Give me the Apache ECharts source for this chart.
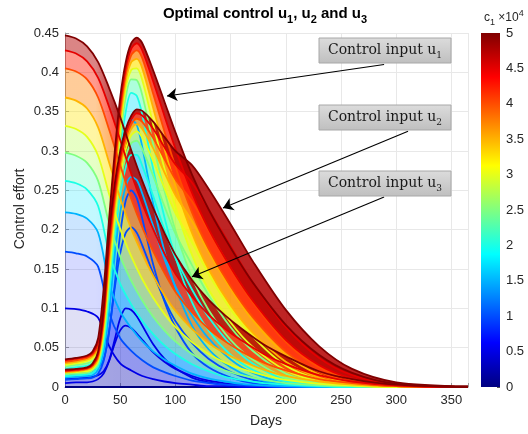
<!DOCTYPE html>
<html>
<head>
<meta charset="utf-8">
<script src="https://cdn.jsdelivr.net/npm/echarts@6/dist/echarts.min.js"></script>
<style>
  html, body { margin: 0; padding: 0; background: #ffffff; }
  #chart { width: 528px; height: 434px; }
</style>
</head>
<body>
<div id="chart"></div>
<script>
// Penalty weight c1 (x10^4), one curve per level for every control
const c1Levels = [0, 0.5, 1, 1.5, 2, 2.5, 3, 3.5, 4, 4.5, 5];
const c1Max = 5;

// Time samples (days)
const daysU12 = [0, 10, 20, 25, 30, 35, 40, 45, 50, 55, 60, 65, 70, 80, 90, 100, 115, 130, 150, 170, 200, 230, 260, 300, 365];
const daysU3 = [0, 10, 20, 30, 40, 50, 60, 70, 80, 90, 100, 115, 130, 145, 160, 180, 200, 230, 260, 300, 365];

// u1, one row per c1 level
const u1Rows = [
  [0,0,0,0,0,0,0,0,0,0,0,0,0,0,0,0,0,0,0,0,0,0,0,0,0],
  [0.010,0.011,0.012,0.013,0.015,0.020,0.034,0.060,0.087,0.100,0.098,0.090,0.078,0.054,0.036,0.024,0.012,0.006,0.002,0.001,0,0,0,0,0],
  [0.016,0.017,0.018,0.020,0.024,0.035,0.070,0.130,0.195,0.237,0.250,0.240,0.214,0.155,0.109,0.076,0.043,0.025,0.012,0.005,0.001,0,0,0,0],
  [0.020,0.021,0.023,0.026,0.031,0.047,0.098,0.180,0.262,0.318,0.340,0.333,0.305,0.232,0.173,0.127,0.078,0.048,0.025,0.012,0.003,0.001,0,0,0],
  [0.023,0.025,0.027,0.030,0.036,0.058,0.120,0.210,0.295,0.350,0.374,0.370,0.346,0.276,0.216,0.165,0.108,0.072,0.041,0.022,0.007,0.002,0,0,0],
  [0.026,0.028,0.030,0.033,0.041,0.068,0.138,0.230,0.314,0.368,0.391,0.390,0.371,0.308,0.250,0.199,0.139,0.098,0.060,0.035,0.012,0.004,0.001,0,0],
  [0.028,0.030,0.033,0.036,0.045,0.078,0.154,0.246,0.327,0.380,0.403,0.405,0.390,0.333,0.278,0.229,0.168,0.124,0.082,0.051,0.021,0.007,0.002,0,0],
  [0.030,0.032,0.035,0.039,0.049,0.088,0.168,0.259,0.338,0.389,0.413,0.417,0.405,0.354,0.303,0.256,0.196,0.150,0.104,0.069,0.032,0.012,0.004,0.001,0],
  [0.032,0.034,0.037,0.041,0.053,0.098,0.183,0.272,0.348,0.397,0.422,0.428,0.418,0.372,0.325,0.280,0.222,0.176,0.128,0.089,0.045,0.019,0.007,0.001,0],
  [0.034,0.036,0.039,0.043,0.057,0.110,0.198,0.285,0.358,0.405,0.430,0.437,0.428,0.388,0.345,0.303,0.247,0.201,0.152,0.110,0.060,0.028,0.011,0.002,0],
  [0.035,0.037,0.040,0.045,0.062,0.125,0.215,0.298,0.368,0.413,0.437,0.444,0.437,0.402,0.363,0.324,0.270,0.226,0.177,0.133,0.079,0.041,0.018,0.004,0]
];

// u2, one row per c1 level
const u2Rows = [
  [0,0,0,0,0,0,0,0,0,0,0,0,0,0,0,0,0,0,0,0,0,0,0,0,0],
  [0.005,0.006,0.006,0.007,0.010,0.017,0.033,0.055,0.072,0.078,0.075,0.068,0.060,0.044,0.032,0.023,0.014,0.008,0.004,0.002,0,0,0,0,0],
  [0.009,0.010,0.011,0.012,0.017,0.033,0.072,0.125,0.170,0.196,0.203,0.196,0.180,0.144,0.111,0.084,0.056,0.036,0.019,0.009,0.002,0,0,0,0],
  [0.012,0.013,0.014,0.015,0.022,0.045,0.100,0.167,0.222,0.255,0.267,0.263,0.246,0.204,0.163,0.128,0.091,0.062,0.035,0.018,0.005,0.001,0,0,0],
  [0.014,0.015,0.016,0.018,0.026,0.055,0.118,0.190,0.244,0.279,0.295,0.295,0.281,0.242,0.200,0.164,0.124,0.089,0.054,0.030,0.009,0.002,0,0,0],
  [0.016,0.017,0.018,0.021,0.030,0.063,0.133,0.205,0.258,0.293,0.310,0.313,0.302,0.268,0.230,0.195,0.155,0.117,0.076,0.046,0.017,0.005,0.001,0,0],
  [0.018,0.019,0.020,0.023,0.033,0.071,0.146,0.217,0.268,0.302,0.320,0.325,0.317,0.287,0.253,0.221,0.184,0.144,0.099,0.064,0.027,0.010,0.003,0,0],
  [0.019,0.020,0.022,0.025,0.036,0.078,0.158,0.228,0.277,0.310,0.328,0.334,0.328,0.303,0.273,0.244,0.211,0.172,0.125,0.085,0.041,0.016,0.005,0.001,0],
  [0.020,0.021,0.023,0.027,0.039,0.085,0.170,0.238,0.285,0.316,0.334,0.341,0.337,0.316,0.290,0.264,0.236,0.199,0.151,0.108,0.057,0.025,0.009,0.002,0],
  [0.021,0.022,0.024,0.028,0.042,0.092,0.182,0.248,0.292,0.322,0.340,0.348,0.345,0.328,0.305,0.283,0.260,0.226,0.179,0.133,0.076,0.037,0.015,0.003,0],
  [0.022,0.023,0.025,0.030,0.045,0.100,0.195,0.258,0.300,0.328,0.345,0.353,0.351,0.337,0.318,0.300,0.282,0.252,0.207,0.160,0.098,0.052,0.023,0.006,0.001]
];

// u3, one row per c1 level
const u3Rows = [
  [0,0,0,0,0,0,0,0,0,0,0,0,0,0,0,0,0,0,0,0,0],
  [0.100,0.099,0.096,0.088,0.052,0.030,0.021,0.014,0.010,0.007,0.005,0.003,0.001,0.001,0,0,0,0,0,0,0],
  [0.172,0.170,0.166,0.153,0.094,0.062,0.046,0.034,0.025,0.019,0.014,0.008,0.005,0.003,0.002,0.001,0,0,0,0,0],
  [0.222,0.220,0.214,0.196,0.132,0.096,0.075,0.058,0.045,0.035,0.027,0.017,0.011,0.007,0.004,0.002,0.001,0,0,0,0],
  [0.262,0.259,0.251,0.230,0.170,0.131,0.105,0.084,0.067,0.053,0.042,0.029,0.020,0.013,0.009,0.005,0.003,0.001,0,0,0],
  [0.298,0.294,0.285,0.262,0.208,0.166,0.135,0.110,0.089,0.072,0.058,0.042,0.030,0.021,0.015,0.009,0.005,0.002,0.001,0,0],
  [0.332,0.328,0.318,0.294,0.245,0.201,0.166,0.137,0.113,0.093,0.076,0.057,0.042,0.031,0.023,0.015,0.009,0.004,0.002,0,0],
  [0.368,0.364,0.354,0.330,0.285,0.240,0.201,0.169,0.141,0.117,0.097,0.074,0.056,0.043,0.033,0.022,0.014,0.007,0.003,0.001,0],
  [0.405,0.401,0.391,0.368,0.327,0.282,0.239,0.203,0.172,0.145,0.121,0.095,0.074,0.058,0.045,0.031,0.021,0.010,0.005,0.001,0],
  [0.428,0.424,0.414,0.393,0.356,0.314,0.271,0.233,0.200,0.170,0.144,0.115,0.092,0.074,0.059,0.042,0.029,0.015,0.007,0.002,0],
  [0.447,0.443,0.433,0.413,0.380,0.343,0.301,0.262,0.227,0.196,0.168,0.136,0.111,0.091,0.074,0.054,0.039,0.020,0.010,0.003,0]
];

// Axis ticks
const xTicks = { min: 0, max: 365, step: 50 };
const yTicks = { min: 0, max: 0.45, step: 0.05 };
const cbarTicks = { min: 0, max: 5, step: 0.5 };

// Annotation arrows: [tail day, tail value, head day, head value]
const arrowU1 = [289, 0.410, 92.4, 0.370];
const arrowU2 = [310.7, 0.325, 143.1, 0.2275];
const arrowU3 = [289, 0.2415, 115, 0.140];

// ---------------------------------------------------------------
function clamp01(v) { return Math.max(0, Math.min(1, v)); }
// MATLAB "jet" colormap
function jetRGB(f) {
  return [
    clamp01(Math.min(4 * f - 1.5, -4 * f + 4.5)),
    clamp01(Math.min(4 * f - 0.5, -4 * f + 3.5)),
    clamp01(Math.min(4 * f + 0.5, -4 * f + 2.5))
  ].map(function (c) { return Math.round(c * 255); });
}
function jet(f, a) {
  const c = jetRGB(f);
  return 'rgba(' + c[0] + ',' + c[1] + ',' + c[2] + ',' + (a === undefined ? 1 : a) + ')';
}

const FONT = "'Liberation Sans', Arial, Helvetica, sans-serif";
const SERIF = "'DejaVu Serif', Georgia, serif";
const INK = '#262626';

// plot box in pixels
const PLOT = { left: 65, top: 33, width: 403, height: 354 };
function dayToPx(d) { return PLOT.left + d / xTicks.max * PLOT.width; }

const families = [
  { name: 'u1', days: daysU12, rows: u1Rows },
  { name: 'u2', days: daysU12, rows: u2Rows },
  { name: 'u3', days: daysU3, rows: u3Rows }
];

// band fill: curves are dense where they bunch together and sparse where
// they fan out, so the fill is lighter there
function bandFill(fam, fMid) {
  const solid = 0.1 + 0.8 * fMid;
  if (fam.name !== 'u3') return jet(fMid, solid);
  // u3 curves are well separated on their early plateau
  const light = 0.1 + 0.4 * fMid;
  return new echarts.graphic.LinearGradient(dayToPx(0), 0, dayToPx(50), 0, [
    { offset: 0, color: jet(fMid, light) },
    { offset: 0.55, color: jet(fMid, light) },
    { offset: 1, color: jet(fMid, solid) }
  ], true);
}

const series = [];
const SMOOTH = 0.3;
// value first, day second: the value column is the one that gets stacked
const ENC = { x: 1, y: 0 };

// zero-weight curves along the axis
families.forEach(function (fam) {
  series.push({
    type: 'line', xAxisIndex: 0, yAxisIndex: 0, silent: true, symbol: 'none', smooth: SMOOTH,
    encode: ENC,
    data: fam.days.map(function (d, i) { return [fam.rows[0][i], d]; }),
    lineStyle: { width: 1.8, color: jet(0) }
  });
});

// each level: band between neighbouring curves, topped by the curve itself
for (let k = 1; k < c1Levels.length; k++) {
  const f = c1Levels[k] / c1Max;
  const fMid = (c1Levels[k] + c1Levels[k - 1]) / 2 / c1Max;
  families.forEach(function (fam) {
    const lo = fam.rows[k - 1], hi = fam.rows[k];
    const stackId = fam.name + '-' + k;
    series.push({
      type: 'line', stack: stackId, xAxisIndex: 0, yAxisIndex: 0, silent: true, symbol: 'none', smooth: SMOOTH,
      encode: ENC,
      data: fam.days.map(function (d, i) { return [lo[i], d]; }),
      lineStyle: { opacity: 0, width: 0 }
    });
    series.push({
      type: 'line', stack: stackId, xAxisIndex: 0, yAxisIndex: 0, silent: true, symbol: 'none', smooth: SMOOTH,
      encode: ENC,
      data: fam.days.map(function (d, i) { return [Math.max(0, hi[i] - lo[i]), d]; }),
      lineStyle: { width: 1.8, color: jet(f) },
      areaStyle: { color: bandFill(fam, fMid), opacity: 1 }
    });
  });
}

// annotation arrows
function arrowLine(a) {
  return [{ coord: [a[0], a[1]] }, { coord: [a[2], a[3]] }];
}
series.push({
  type: 'scatter', xAxisIndex: 0, yAxisIndex: 0, silent: true, symbolSize: 0, z: 20,
  data: [[arrowU1[2], arrowU1[3]], [arrowU2[2], arrowU2[3]], [arrowU3[2], arrowU3[3]]],
  markLine: {
    silent: true, animation: false, z: 20,
    symbol: ['none', 'arrow'], symbolSize: 10,
    label: { show: false },
    lineStyle: { color: '#000000', width: 1.1, type: 'solid', opacity: 1 },
    data: [arrowLine(arrowU1), arrowLine(arrowU2), arrowLine(arrowU3)]
  }
});

// colour bar
const jetStops = [];
for (let i = 0; i <= 16; i++) { jetStops.push({ offset: i / 16, color: jet(i / 16) }); }
series.push({
  type: 'bar', xAxisIndex: 1, yAxisIndex: 1, silent: true, barWidth: '100%',
  data: [c1Max],
  itemStyle: { color: new echarts.graphic.LinearGradient(0, 1, 0, 0, jetStops) }
});

// annotation boxes
function noteBox(y, idx) {
  return [
    { type: 'rect', z: 100, shape: { x: 319, y: y, width: 132, height: 25 },
      style: { fill: new echarts.graphic.LinearGradient(0, 0, 0, 1, [
        { offset: 0, color: '#dcdcdc' }, { offset: 1, color: '#bfbfbf' }]), stroke: '#a8a8a8', lineWidth: 1 } },
    { type: 'text', z: 101, x: 385, y: y + 12.5,
      style: { text: '{m|Control input u}{s|' + idx + '}', align: 'center', verticalAlign: 'middle',
        rich: { m: { fontFamily: SERIF, fontSize: 14, fill: '#1a1a1a', lineHeight: 20 },
                s: { fontFamily: SERIF, fontSize: 9, fill: '#1a1a1a', verticalAlign: 'bottom' } } } }
  ];
}

const option = {
  animation: false,
  backgroundColor: '#ffffff',
  grid: [
    { left: PLOT.left, top: PLOT.top, width: PLOT.width, height: PLOT.height, show: false },
    { left: 481, top: 33, width: 19, height: 354, show: false }
  ],
  xAxis: [
    { type: 'value', gridIndex: 0, min: xTicks.min, max: xTicks.max, interval: xTicks.step,
      axisLine: { show: true, lineStyle: { color: '#9a9a9a', width: 1 } },
      axisTick: { show: true, inside: true, length: 4, lineStyle: { color: '#9a9a9a' } },
      axisLabel: { color: INK, fontFamily: FONT, fontSize: 13, margin: 7,
        formatter: function (v) { return v % xTicks.step === 0 ? String(v) : ''; } },
      splitLine: { show: true, lineStyle: { color: '#e8e8e8', width: 1 } } },
    { type: 'category', gridIndex: 1, data: [''], show: false }
  ],
  yAxis: [
    { type: 'value', gridIndex: 0, min: yTicks.min, max: yTicks.max, interval: yTicks.step,
      axisLine: { show: true, lineStyle: { color: '#9a9a9a', width: 1 } },
      axisTick: { show: true, inside: true, length: 4, lineStyle: { color: '#9a9a9a' } },
      axisLabel: { color: INK, fontFamily: FONT, fontSize: 13, margin: 6 },
      splitLine: { show: true, lineStyle: { color: '#e8e8e8', width: 1 } } },
    { type: 'value', gridIndex: 1, position: 'right', min: cbarTicks.min, max: cbarTicks.max, interval: cbarTicks.step,
      axisLine: { show: false },
      axisTick: { show: true, inside: true, length: 3, lineStyle: { color: '#555' } },
      axisLabel: { color: INK, fontFamily: FONT, fontSize: 13, margin: 6 },
      splitLine: { show: false } }
  ],
  graphic: [
    { type: 'text', x: 265, y: 14, z: 100,
      style: { text: '{b|Optimal control u}{s|1}{b|, u}{s|2}{b| and u}{s|3}', align: 'center', verticalAlign: 'middle',
        rich: { b: { fontFamily: FONT, fontWeight: 'bold', fontSize: 15, fill: '#000', lineHeight: 22 },
                s: { fontFamily: FONT, fontWeight: 'bold', fontSize: 11, fill: '#000', verticalAlign: 'bottom' } } } },
    { type: 'text', x: 266, y: 421, z: 100,
      style: { text: 'Days', font: '14px ' + FONT, fill: INK, align: 'center', verticalAlign: 'middle' } },
    { type: 'text', x: 20, y: 209, rotation: Math.PI / 2, z: 100,
      style: { text: 'Control effort', font: '14px ' + FONT, fill: INK, align: 'center', verticalAlign: 'middle' } },
    { type: 'text', x: 484, y: 18, z: 100,
      style: { text: '{c|c}{s|1}{c| \u00d710}{p|4}', align: 'left', verticalAlign: 'middle',
        rich: { c: { fontFamily: FONT, fontSize: 12, fill: INK, lineHeight: 18 },
                s: { fontFamily: FONT, fontSize: 9, fill: INK, verticalAlign: 'bottom' },
                p: { fontFamily: FONT, fontSize: 9, fill: INK, verticalAlign: 'top' } } } }
  ].concat(noteBox(38, 1), noteBox(105, 2), noteBox(171, 3)),
  series: series
};

const chart = echarts.init(document.getElementById('chart'), null, { renderer: 'canvas' });
chart.setOption(option);
</script>
</body>
</html>
